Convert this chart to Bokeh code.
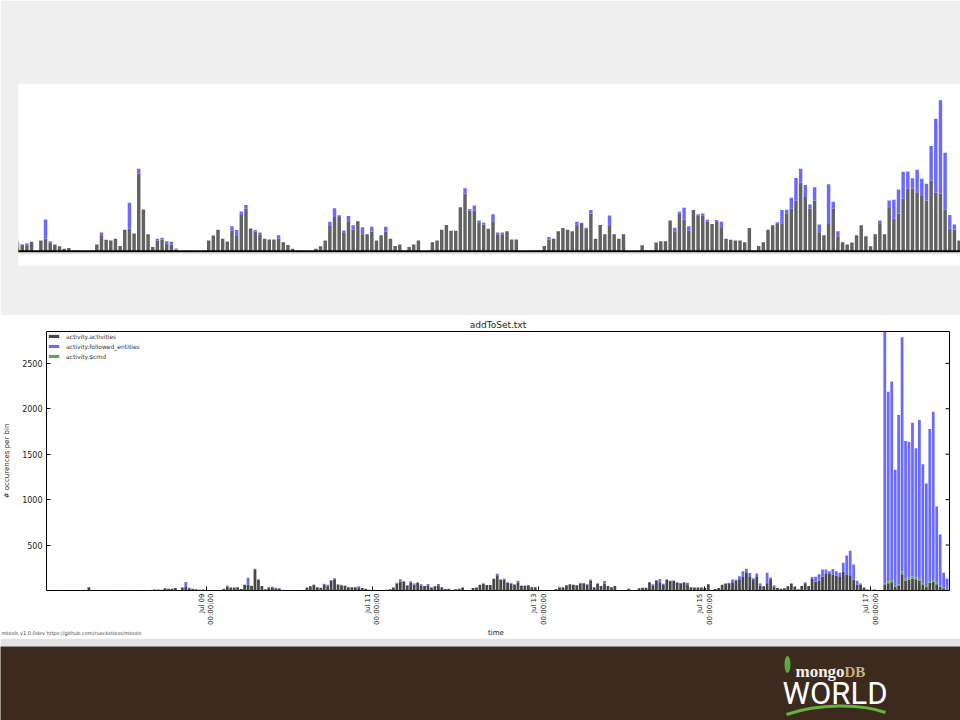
import math
import pandas as pd
from bokeh.plotting import figure
from bokeh.layouts import column
from bokeh.models import (ColumnDataSource, Range1d, FixedTicker, DatetimeTickFormatter,
                          Legend, LegendItem, Span)
from bokeh.core.properties import value
from bokeh.embed import file_html
from bokeh.resources import INLINE

# ---------------- data (hourly bins, Jul 07 00:00 .. Jul 17 23:00) ----------------
first_bin = "2014-07-07 00:00"

activities = [
    0, 0, 1, 0, 0, 2, 0, 0, 1, 0, 0, 0, 2, 0, 35, 0, 1, 0, 5, 6, 0, 0, 1, 0,                 # Jul 07
    0, 0, 0, 2, 0, 0, 1, 5, 2, 10, 12, 8, 25, 20, 18, 28, 0, 32, 38, 25, 20, 15, 8, 10,       # Jul 08
    3, 2, 0, 1, 0, 20, 45, 34, 32, 37, 16, 63, 66, 52, 225, 122, 50, 13, 32, 35, 24, 20, 6, 1,  # Jul 09
    0, 2, 0, 1, 0, 32, 46, 63, 37, 29, 60, 47, 106, 124, 67, 58, 50, 37, 35, 35, 37, 27, 19, 8,  # Jul 10
    2, 1, 0, 1, 8, 15, 32, 76, 100, 100, 56, 88, 63, 88, 50, 50, 58, 32, 47, 58, 37, 16, 20, 2,  # Jul 11
    13, 20, 32, 1, 1, 27, 32, 63, 77, 60, 60, 128, 168, 118, 118, 85, 78, 66, 88, 50, 50, 59, 35, 35,  # Jul 12
    1, 0, 2, 2, 2, 16, 34, 37, 59, 68, 63, 59, 76, 80, 66, 110, 37, 77, 50, 76, 50, 37, 50, 1,  # Jul 13
    1, 0, 18, 3, 2, 26, 30, 30, 90, 59, 110, 92, 61, 120, 105, 105, 87, 80, 88, 68, 37, 34, 32, 32,  # Jul 14
    27, 68, 1, 16, 27, 63, 76, 80, 82, 111, 124, 148, 200, 158, 124, 148, 56, 47, 80, 124, 44, 27, 20, 26,  # Jul 15
    47, 76, 44, 15, 50, 80, 50, 126, 95, 110, 153, 182, 182, 172, 163, 148, 206, 170, 168, 121, 66, 63, 32, 10,  # Jul 16
    8, 12, 5, 3, 60, 80, 90, 40, 50, 180, 110, 120, 130, 125, 110, 60, 40, 85, 95, 70, 40, 25, 15, 0,  # Jul 17
]

followed_entities = [
    0, 0, 0, 0, 0, 0, 0, 0, 0, 0, 0, 0, 0, 0, 0, 0, 0, 0, 0, 0, 0, 0, 0, 0,
    0, 0, 0, 0, 0, 0, 0, 0, 0, 0, 0, 0, 0, 0, 5, 0, 0, 0, 55, 5, 0, 0, 0, 0,
    0, 0, 0, 0, 0, 0, 10, 0, 0, 0, 0, 0, 75, 0, 15, 0, 0, 0, 5, 5, 6, 8, 3, 0,
    0, 0, 0, 0, 0, 0, 0, 0, 0, 0, 13, 15, 10, 11, 0, 4, 5, 0, 0, 0, 10, 0, 0, 0,
    0, 0, 0, 0, 0, 0, 0, 10, 25, 5, 5, 15, 13, 0, 20, 0, 14, 0, 0, 14, 0, 0, 0, 0,
    0, 0, 0, 0, 0, 0, 0, 0, 0, 0, 0, 0, 15, 5, 15, 5, 5, 0, 20, 5, 5, 0, 0, 0,
    0, 0, 0, 0, 0, 0, 8, 0, 0, 0, 0, 0, 10, 3, 3, 10, 0, 0, 0, 28, 0, 0, 0, 0,
    0, 0, 0, 0, 0, 0, 0, 0, 0, 10, 5, 35, 12, 0, 3, 5, 5, 0, 3, 18, 0, 0, 0, 0,
    0, 0, 0, 0, 0, 0, 0, 5, 38, 10, 32, 65, 40, 35, 12, 38, 22, 0, 115, 20, 15, 0, 0, 0,
    0, 0, 0, 0, 0, 10, 0, 22, 55, 70, 78, 50, 30, 65, 48, 48, 100, 215, 270, 165, 40, 15, 0, 0,
    0, 0, 0, 0, 2775, 2086, 2185, 1280, 1865, 2578, 1516, 1493, 1691, 1420, 1746, 1315, 1127, 1673, 1852, 839, 567, 164, 111, 0,
]

cmd = [0] * 240 + [
    0, 0, 0, 0, 15, 20, 25, 10, 15, 30, 20, 25, 25, 20, 20, 15, 10, 20, 20, 15, 10, 5, 5, 0,
]

series_names = ["activity.activities", "activity.followed_entities", "activity.$cmd"]
tick_dates = ["2014-07-09", "2014-07-11", "2014-07-13", "2014-07-15", "2014-07-17"]
y_ticks = [500, 1000, 1500, 2000, 2500]
y_max = 2850
chart_title = "addToSet.txt"
x_label = "time"
y_label = "# occurences per bin"
footnote = "mtools v1.0.0dev  https://github.com/rueckstiess/mtools"

# ---------------- styling ----------------
FONT = "DejaVu Sans"
DARK = "#474747"
DARK_TOP = "#626262"
BLUE = "#6a6aff"
GREEN = "#5aa84a"
SLIDE_GRAY = "#efefef"
BROWN = "#3c2a1f"

HOUR = 3600 * 1000.0
times = pd.date_range(first_bin, periods=len(activities), freq="h")
t_ms = (times.asi8 / 1e6).tolist()
jul09 = pd.Timestamp(tick_dates[0]).value / 1e6
tick_ms = [pd.Timestamp(d).value / 1e6 for d in tick_dates]

src = ColumnDataSource(dict(t=t_ms, act=activities, cmd=cmd, fol=followed_entities))

# ---------------- top (zoomed crop) chart ----------------
pt = figure(width=960, height=315, x_axis_type="datetime",
            x_range=Range1d(jul09 - 11.8 * HOUR, jul09 + 190.3 * HOUR),
            y_range=Range1d(-40.6, 484),
            x_axis_location=None, y_axis_location=None, frame_align=False,
            min_border_left=18, min_border_right=0, min_border_top=84, min_border_bottom=50,
            border_fill_color=SLIDE_GRAY, background_fill_color="white",
            outline_line_color=None, toolbar_location=None, output_backend="svg")
pt.grid.visible = False
pt.vbar_stack(["act", "cmd", "fol"], x="t", width=0.74 * HOUR,
              fill_color=[DARK_TOP, GREEN, BLUE], line_color=None, source=src)
pt.add_layout(Span(location=0, dimension="width", line_color="black", line_width=2.5))
pt.add_layout(Span(location=-5, dimension="width", line_color="#e2e2e2", line_width=2))

# ---------------- bottom chart ----------------
x0 = jul09 - 46.25 * HOUR
x1 = jul09 + 214.7 * HOUR
pb = figure(width=960, height=312, x_axis_type="datetime",
            x_range=Range1d(x0, x1), y_range=Range1d(0, y_max),
            title=chart_title, frame_align=False,
            min_border_left=42, min_border_right=11, min_border_top=16, min_border_bottom=35,
            border_fill_color="white", background_fill_color="white",
            outline_line_color="black", outline_line_width=1,
            toolbar_location=None, output_backend="svg")
pb.title.align = "center"
pb.title.text_font = FONT
pb.title.text_font_size = "9px"
pb.title.text_font_style = "normal"
pb.title.text_color = "#222222"
pb.title.standoff = 3
pb.grid.visible = False

rs = pb.vbar_stack(["act", "cmd", "fol"], x="t", width=0.8 * HOUR,
                   fill_color=[DARK, GREEN, BLUE], line_color=None, source=src)

for ax in pb.axis:
    ax.axis_line_color = None
    ax.major_tick_in = 4
    ax.major_tick_out = 0
    ax.minor_tick_in = 0
    ax.minor_tick_out = 0
    ax.major_tick_line_color = "black"
    ax.major_label_text_font = FONT
    ax.major_label_text_color = "#222222"
    ax.axis_label_text_font = FONT
    ax.axis_label_text_font_style = "normal"
    ax.axis_label_text_color = "#222222"

pb.yaxis.ticker = FixedTicker(ticks=y_ticks)
pb.yaxis.major_label_text_font_size = "8px"
pb.yaxis.major_label_standoff = 4
pb.yaxis.axis_label = y_label
pb.yaxis.axis_label_text_font_size = "7px"
pb.yaxis.axis_label_standoff = 8

fmt = "%b %d\n%H:%M:%S"
pb.xaxis.ticker = FixedTicker(ticks=tick_ms)
pb.xaxis.formatter = DatetimeTickFormatter(microseconds=fmt, milliseconds=fmt, seconds=fmt,
                                           minsec=fmt, minutes=fmt, hourmin=fmt, hours=fmt,
                                           days=fmt, months=fmt, years=fmt)
pb.xaxis.major_label_orientation = math.pi / 2
pb.xaxis.major_label_text_font_size = "7px"
pb.xaxis.major_label_standoff = 3

# inward ticks on the right edge of the box (half of each dash is clipped by the frame)
pb.scatter(x=[x1] * len(y_ticks), y=y_ticks, marker="dash", size=8,
           line_color="black", line_width=1)

legend = Legend(items=[LegendItem(label=series_names[0], renderers=[rs[0]]),
                       LegendItem(label=series_names[1], renderers=[rs[2]]),
                       LegendItem(label=series_names[2], renderers=[rs[1]])],
                location="top_left", border_line_color=None, background_fill_alpha=0,
                label_text_font=FONT, label_text_font_size="6px", label_text_color="#333333",
                glyph_width=13, glyph_height=4, label_height=8, spacing=2,
                padding=5, margin=1, label_standoff=6)
pb.add_layout(legend)

# ---------------- strip under the chart: x-axis title and footnote ----------------
frame_center = 42 + (960 - 42 - 11) / 2.0
ps = figure(width=960, height=11, x_range=Range1d(0, 960), y_range=Range1d(638, 627),
            x_axis_location=None, y_axis_location=None, frame_align=False,
            min_border_left=0, min_border_right=0, min_border_top=0, min_border_bottom=0,
            border_fill_color="white", background_fill_color="white",
            outline_line_color=None, toolbar_location=None, output_backend="svg")
ps.grid.visible = False
ps.text(x=[frame_center], y=[631.5], text=[x_label], text_font=value(FONT),
        text_font_size="7px", text_color="#222222", text_align="center",
        text_baseline="middle")
ps.text(x=[1], y=[631], text=[footnote], text_font=value(FONT),
        text_font_size="5px", text_color="#444444", text_align="left",
        text_baseline="middle")

# ---------------- footer with logo ----------------
pf = figure(width=960, height=82, x_range=Range1d(0, 960), y_range=Range1d(720, 646),
            x_axis_location=None, y_axis_location=None, frame_align=False,
            min_border_left=0, min_border_right=0, min_border_top=8, min_border_bottom=0,
            border_fill_color="#e4e4e4", background_fill_color=BROWN,
            outline_line_color=None, toolbar_location=None, output_backend="svg")
pf.grid.visible = False
pf.ellipse(x=[787], y=[664], width=6, height=17, fill_color="#5daa3c", line_color=None)
pf.text(x=[795], y=[671], text=["mongo"], text_font=value("Liberation Serif"),
        text_font_size="17px", text_font_style="bold", text_color="#f2eee4",
        text_baseline="alphabetic")
pf.text(x=[844], y=[671], text=["DB"], text_font=value("Liberation Serif"),
        text_font_size="15px", text_font_style="bold", text_color="#c9b27c",
        text_baseline="alphabetic")
pf.text(x=[782], y=[693], text=["WORLD"], text_font=value("Roboto"),
        text_font_size="31px", text_color="white", text_baseline="alphabetic")
pf.bezier(x0=[786], y0=[714], x1=[885], y1=[712], cx0=[818], cy0=[703], cx1=[860], cy1=[703],
          line_color="#67b23c", line_width=3)

layout = column(pt, pb, ps, pf, spacing=0)
open("out.html", "w").write(file_html(layout, INLINE))
